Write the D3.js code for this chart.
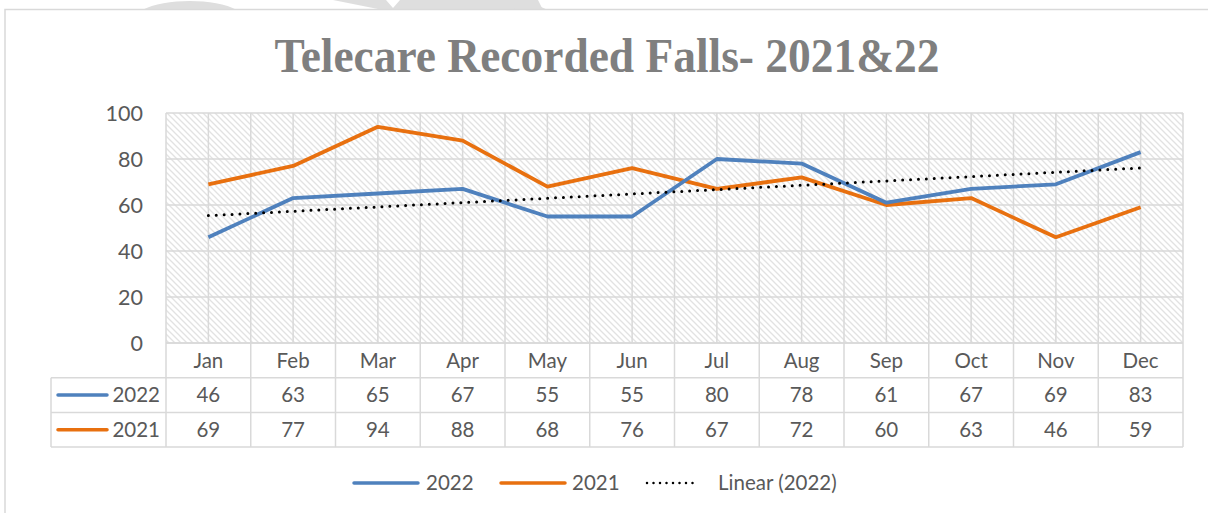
<!DOCTYPE html>
<html>
<head>
<meta charset="utf-8">
<script src="https://cdn.jsdelivr.net/npm/d3@7"></script>
<style>
  body { margin: 0; background: #fff; }
  svg { display: block; }
</style>
</head>
<body>
<script>
// données du graphique
const months = ['Jan', 'Feb', 'Mar', 'Apr', 'May', 'Jun', 'Jul', 'Aug', 'Sep', 'Oct', 'Nov', 'Dec']
const values2022 = [46, 63, 65, 67, 55, 55, 80, 78, 61, 67, 69, 83]
const values2021 = [69, 77, 94, 88, 68, 76, 67, 72, 60, 63, 46, 59]
const yTicks = [0, 20, 40, 60, 80, 100]
const seriesNames = ['2022', '2021']
const title = 'Telecare Recorded Falls- 2021&22'

const W = 1208, H = 513
const blue = '#4f81bd', orange = '#e8700f', grid = '#d9d9d9', txt = '#595959'
const font = 'Lato, "Open Sans", sans-serif'
const fs = 20.5

let svg = d3.select('body').append('svg')
    .attr('width', W)
    .attr('height', H)

// motif hachuré du fond
let defs = svg.append('defs')
let pat = defs.append('pattern')
    .attr('id', 'hatch')
    .attr('patternUnits', 'userSpaceOnUse')
    .attr('width', 6)
    .attr('height', 6)
pat.append('rect').attr('width', 6).attr('height', 6).attr('fill', '#fff')
pat.append('path')
    .attr('d', 'M-1,-1 L7,7 M-1,5 L1,7 M5,-1 L7,1')
    .attr('stroke', '#e2e2e2')
    .attr('stroke-width', 1.3)

// filigrane en haut (hors cadre)
let wm = svg.append('g').attr('fill', '#dedede')
wm.append('path').attr('d', 'M142,10 C165,-2 215,-2 237,10 Z')
wm.append('path').attr('d', 'M333,0 L386,0 L393,8 L400,0 L525,0 L548,10 L395,10 L383,10 Z')
wm.append('path').attr('d', 'M512,0 L538,0 L543,10 L515,10 Z')

// cadre du graphique
svg.append('rect')
    .attr('x', 6).attr('y', 10.5).attr('width', W - 6).attr('height', H - 10)
    .attr('fill', '#fff')
svg.append('path')
    .attr('d', 'M5,' + H + ' L5,9.5 L' + W + ',9.5')
    .attr('fill', 'none')
    .attr('stroke', '#d9d9d9')
    .attr('stroke-width', 1.5)

// titre
svg.append('text')
    .attr('x', 607)
    .attr('y', 72)
    .attr('text-anchor', 'middle')
    .attr('font-family', '"Liberation Serif", serif')
    .attr('font-weight', 'bold')
    .attr('font-size', 48)
    .attr('fill', '#7f7f7f')
    .attr('textLength', 665)
    .attr('lengthAdjust', 'spacingAndGlyphs')
    .text(title)

let pLeft = 166, pRight = 1183, pTop = 113, pBottom = 343
let rowH = 34.7

let x = d3.scaleBand()
    .domain(months)
    .range([pLeft, pRight])
let y = d3.scaleLinear()
    .domain([0, 100])
    .range([pBottom, pTop])

// zone de tracé
svg.append('rect')
    .attr('x', pLeft).attr('y', pTop)
    .attr('width', pRight - pLeft).attr('height', pBottom - pTop)
    .attr('fill', 'url(#hatch)')

let g = svg.append('g')
    .attr('stroke', grid)
    .attr('stroke-width', 1.5)

// grille horizontale
g.selectAll('.h')
    .data(yTicks)
    .join('line')
    .attr('x1', pLeft).attr('x2', pRight)
    .attr('y1', d => y(d)).attr('y2', d => y(d))

// grille verticale (limites et milieux des catégories)
let vx = []
months.forEach(m => { vx.push(x(m)); vx.push(x(m) + x.bandwidth() / 2) })
vx.push(pRight)
g.selectAll('.v')
    .data(vx)
    .join('line')
    .attr('x1', d => d).attr('x2', d => d)
    .attr('y1', pTop).attr('y2', pBottom)

// axe Y
svg.append('g')
    .selectAll('text')
    .data(yTicks)
    .join('text')
    .attr('x', 143)
    .attr('y', d => y(d))
    .attr('dy', '0.35em')
    .attr('text-anchor', 'end')
    .attr('font-family', font)
    .attr('font-size', 21.5)
    .attr('fill', txt)
    .text(d => d)

// table de données
let t = svg.append('g')
    .attr('stroke', grid)
    .attr('stroke-width', 1.5)
    .attr('fill', 'none')
t.append('line').attr('x1', pLeft).attr('x2', pRight).attr('y1', pBottom).attr('y2', pBottom)
;[1, 2, 3].forEach(i => {
    t.append('line')
        .attr('x1', 51).attr('x2', pRight)
        .attr('y1', pBottom + i * rowH).attr('y2', pBottom + i * rowH)
})
months.concat(['end']).forEach(m => {
    let xx = m === 'end' ? pRight : x(m)
    t.append('line')
        .attr('x1', xx).attr('x2', xx)
        .attr('y1', pBottom).attr('y2', pBottom + 3 * rowH)
})
t.append('line').attr('x1', 51).attr('x2', 51).attr('y1', pBottom + rowH).attr('y2', pBottom + 3 * rowH)

let cellText = svg.append('g')
    .attr('font-family', font)
    .attr('font-size', fs)
    .attr('fill', txt)
    .attr('text-anchor', 'middle')

cellText.selectAll('.m')
    .data(months)
    .join('text')
    .attr('x', d => x(d) + x.bandwidth() / 2)
    .attr('y', pBottom + rowH / 2)
    .attr('dy', '0.35em')
    .text(d => d)

let rows = [values2022, values2021]
rows.forEach((vals, r) => {
    cellText.append('g').selectAll('text')
        .data(vals)
        .join('text')
        .attr('x', (d, i) => x(months[i]) + x.bandwidth() / 2)
        .attr('y', pBottom + rowH * (r + 1.5))
        .attr('dy', '0.35em')
        .text(d => d)
})

// clés de légende dans la table
seriesNames.forEach((name, r) => {
    let cy = pBottom + rowH * (r + 1.5)
    svg.append('line')
        .attr('x1', 58).attr('x2', 107)
        .attr('y1', cy).attr('y2', cy)
        .attr('stroke', r === 0 ? blue : orange)
        .attr('stroke-width', 3.5)
        .attr('stroke-linecap', 'round')
    svg.append('text')
        .attr('x', 160)
        .attr('y', cy)
        .attr('dy', '0.35em')
        .attr('text-anchor', 'end')
        .attr('font-family', font)
        .attr('font-size', fs)
        .attr('fill', txt)
        .text(name)
})

// courbe de tendance linéaire (2022)
let n = values2022.length
let mx = d3.mean(values2022, (d, i) => i)
let my = d3.mean(values2022)
let sxy = d3.sum(values2022, (d, i) => (i - mx) * (d - my))
let sxx = d3.sum(values2022, (d, i) => (i - mx) * (i - mx))
let slope = sxy / sxx
let trend = [0, n - 1].map(i => ({ i: i, v: my + slope * (i - mx) }))

let cx = i => x(months[i]) + x.bandwidth() / 2

let line = d3.line()
    .x((d, i) => cx(i))
    .y(d => y(d))

svg.append('path')
    .datum(values2021)
    .attr('d', line)
    .attr('fill', 'none')
    .attr('stroke', orange)
    .attr('stroke-width', 3.8)
    .attr('stroke-linejoin', 'round')

svg.append('path')
    .datum(values2022)
    .attr('d', line)
    .attr('fill', 'none')
    .attr('stroke', blue)
    .attr('stroke-width', 3.8)
    .attr('stroke-linejoin', 'round')

svg.append('path')
    .datum(trend)
    .attr('d', d3.line().x(d => cx(d.i)).y(d => y(d.v)))
    .attr('fill', 'none')
    .attr('stroke', '#000')
    .attr('stroke-width', 3)
    .attr('stroke-linecap', 'round')
    .attr('stroke-dasharray', '0 7.9')

// légende du bas
let ly = 483
let leg = svg.append('g')
    .attr('font-family', font)
    .attr('font-size', fs)
    .attr('fill', txt)
leg.append('line').attr('x1', 354).attr('x2', 418).attr('y1', ly).attr('y2', ly)
    .attr('stroke', blue).attr('stroke-width', 3.5).attr('stroke-linecap', 'round')
leg.append('text').attr('x', 426).attr('y', ly).attr('dy', '0.35em').text(seriesNames[0])
leg.append('line').attr('x1', 501).attr('x2', 565).attr('y1', ly).attr('y2', ly)
    .attr('stroke', orange).attr('stroke-width', 3.5).attr('stroke-linecap', 'round')
leg.append('text').attr('x', 572).attr('y', ly).attr('dy', '0.35em').text(seriesNames[1])
leg.append('line').attr('x1', 647).attr('x2', 699).attr('y1', ly).attr('y2', ly)
    .attr('stroke', '#000').attr('stroke-width', 2.5).attr('stroke-linecap', 'round')
    .attr('stroke-dasharray', '0 6.5')
leg.append('text').attr('x', 718).attr('y', ly).attr('dy', '0.35em').text('Linear (' + seriesNames[0] + ')')
</script>
</body>
</html>
